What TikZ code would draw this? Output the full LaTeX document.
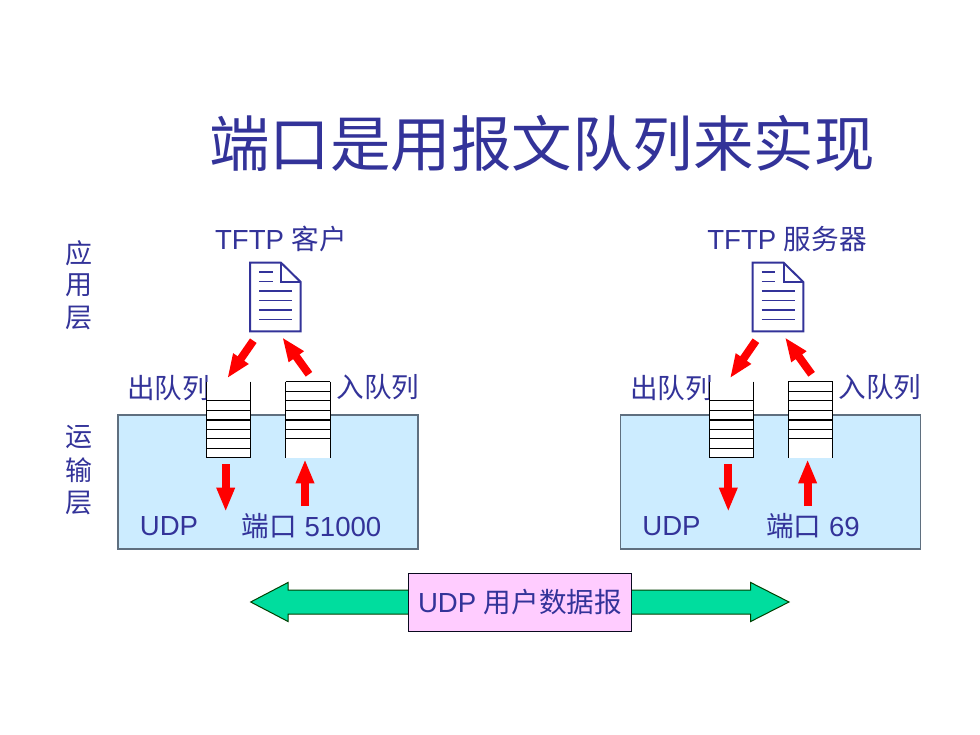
\documentclass[tikz,border=0pt]{standalone}
\usepackage{fontspec}
\setmainfont{Liberation Sans}
\newfontfamily\cjk{Noto Sans CJK SC}
\usetikzlibrary{arrows.meta}
\definecolor{ink}{HTML}{333399}
\definecolor{boxblue}{HTML}{CCECFF}
\definecolor{boxedge}{HTML}{5F6F7F}
\definecolor{mint}{HTML}{00DD9E}
\definecolor{pinkbox}{HTML}{FFCCFF}
\tikzset{
  x=1pt,y=-1pt,
  lab/.style={text=ink,inner sep=0pt,font=\fontsize{27.6}{28}\selectfont},
  redarrow/.style={draw=red,line width=8pt,-{Triangle[length=24pt,width=17pt,fill=red]},shorten >=0pt},
  doc/.style={draw=ink,line width=2pt,line join=miter},
  qline/.style={draw=black,line width=1.1pt},
  udpbox/.style={draw=boxedge,fill=boxblue,line width=1.2pt},
}
\newcommand{\hostpart}[1]{%
  \path[udpbox] (118,415) rectangle (418,549);
  % document
  \path[doc,fill=white] (250,262.7) -- (281,262.7) -- (300.7,282) -- (300.7,331.5) -- (250,331.5) -- cycle;
  \path[doc] (281,262.7) -- (281,281.7) -- (300.7,281.7);
  \foreach \yy/\xx in {272/272.7,281.7/272.7,291/292,300.7/292,310/292,319.7/292}
    \path[doc,line width=1.6pt] (259,\yy) -- (\xx,\yy);
  % queues
  \fill[white] (206.7,381.7) rectangle (250.7,457.7);
  \fill[white] (285.7,381.7) rectangle (330.3,457.7);
  \foreach \yy in {400.7,410.3,420,429.3,438.3,448.7,457.7}
    \path[qline] (206.7,\yy) -- (250.7,\yy);
  \path[qline] (206.7,381.7) -- (206.7,457.7) (250.7,381.7) -- (250.7,457.7);
  \foreach \yy in {381.7,391.3,400.7,410.3,420,429.3,438.3}
    \path[qline] (285.7,\yy) -- (330.3,\yy);
  \path[qline] (285.7,381.7) -- (285.7,457.7) (330.3,381.7) -- (330.3,457.7);
  % red arrows
  \coordinate (#1a) at (253.3,340.7); \coordinate (#1b) at (227.3,378.3);
  \coordinate (#1c) at (309,374.3);   \coordinate (#1d) at (282.3,337.3);
  \coordinate (#1e) at (225.7,464.3); \coordinate (#1f) at (225.7,511.7);
  \coordinate (#1g) at (305,506);     \coordinate (#1h) at (305,459.3);
  \draw[redarrow] (#1a) -- (#1b);
  \draw[redarrow] (#1c) -- (#1d);
  \draw[redarrow] (#1e) -- (#1f);
  \draw[redarrow] (#1g) -- (#1h);
}
\begin{document}
\begin{tikzpicture}
\useasboundingbox (0,0) rectangle (980,735);
\fill[white] (0,0) rectangle (980,735);
\node[text=ink,inner sep=0pt,font=\fontsize{60.5}{61}\selectfont\cjk] (title) at (542,143) {端口是用报文队列来实现};
\node[lab,font=\fontsize{27}{27}\selectfont\cjk] (v1) at (79,253) {应};
\node[lab,font=\fontsize{27}{27}\selectfont\cjk] (v2) at (79,285) {用};
\node[lab,font=\fontsize{27}{27}\selectfont\cjk] (v3) at (79,318) {层};
\node[lab,font=\fontsize{27}{27}\selectfont\cjk] (v4) at (79,437) {运};
\node[lab,font=\fontsize{27}{27}\selectfont\cjk] (v5) at (79,470) {输};
\node[lab,font=\fontsize{27}{27}\selectfont\cjk] (v6) at (79,503) {层};

\node[lab] (outL) at (168.5,388) {\cjk 出队列};
\node[lab] (outR) at (671.5,388) {\cjk 出队列};
\hostpart{L}
\begin{scope}[xshift=502.6pt]
\hostpart{R}
\end{scope}
\node[lab] (inL) at (378,387) {\cjk 入队列};
\node[lab] (inR) at (880,387) {\cjk 入队列};
\node[lab] (tL) at (281,239) {TFTP {\cjk 客户}};
\node[lab] (tR) at (787,239) {TFTP {\cjk 服务器}};
\node[lab] (uL) at (169,526) {UDP};
\node[lab] (uR) at (671.5,526) {UDP};
\node[lab] (pL) at (311.5,526) {{\cjk 端口} 51000};
\node[lab] (pR) at (813,526) {{\cjk 端口} 69};

\path[draw=black!75!green,fill=mint,line width=1pt] (250.7,602) -- (288,582.5) -- (288,590) -- (750.7,590) -- (750.7,582.5) -- (789,602) -- (750.7,621.5) -- (750.7,614) -- (288,614) -- (288,621.5) -- cycle;
\node[draw=black!80!ink,fill=pinkbox,line width=1pt,minimum width=223pt,minimum height=58pt,inner sep=0pt,text=ink,font=\fontsize{27.6}{28}\selectfont] (dg) at (520,602) {UDP {\cjk 用户数据报}};
\end{tikzpicture}
\end{document}
